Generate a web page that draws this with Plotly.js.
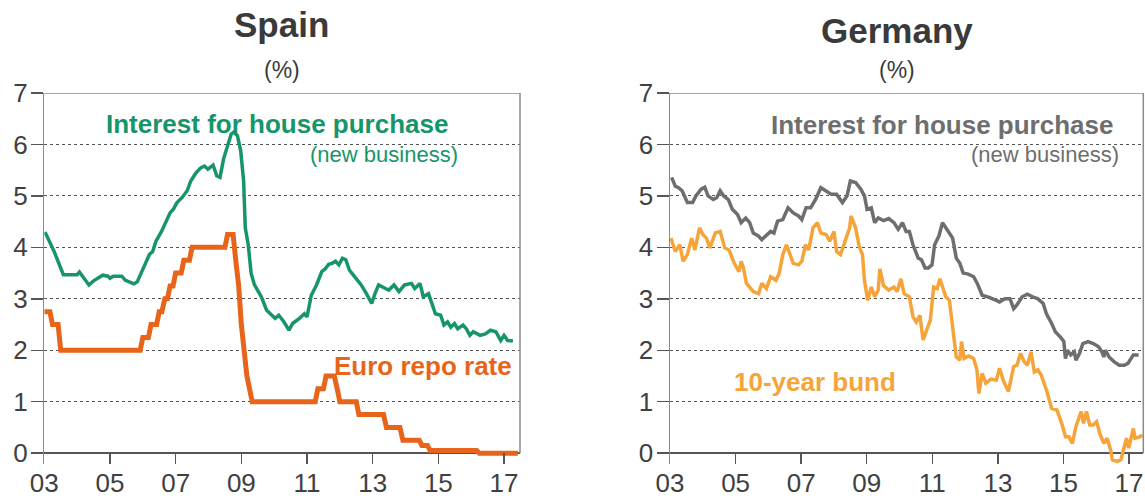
<!DOCTYPE html>
<html>
<head>
<meta charset="utf-8">
<script src="https://cdn.plot.ly/plotly-3.0.1.min.js"></script>
<style>html,body{margin:0;padding:0;background:#fff;}#chart{width:1145px;height:499px;}</style>
</head>
<body>
<div id="chart"></div>
<script>
// ---- Data (decimal years) ----
const tickYears = [2003, 2005, 2007, 2009, 2011, 2013, 2015, 2017];
const tickLabels = ["03", "05", "07", "09", "11", "13", "15", "17"];
const yTicks = [0, 1, 2, 3, 4, 5, 6, 7];

// Spain: interest for house purchase (new business)
const spainHouseX = [2003.02,2003.3,2003.58,2004.0,2004.07,2004.2,2004.36,2004.5,2004.63,2004.78,2004.94,2005.0,2005.1,2005.36,2005.47,2005.73,2005.83,2005.94,2006.04,2006.2,2006.3,2006.4,2006.57,2006.67,2006.83,2006.93,2007.04,2007.2,2007.35,2007.46,2007.62,2007.77,2007.88,2007.98,2008.14,2008.25,2008.35,2008.46,2008.61,2008.69,2008.77,2008.88,2008.98,2009.07,2009.12,2009.21,2009.3,2009.4,2009.61,2009.77,2009.93,2010.03,2010.14,2010.3,2010.45,2010.56,2010.77,2010.92,2011.0,2011.13,2011.29,2011.45,2011.55,2011.66,2011.76,2011.87,2011.97,2012.08,2012.18,2012.29,2012.4,2012.55,2012.65,2012.81,2012.97,2013.07,2013.18,2013.39,2013.49,2013.65,2013.8,2013.97,2014.18,2014.28,2014.44,2014.54,2014.7,2014.91,2015.07,2015.17,2015.28,2015.38,2015.49,2015.59,2015.75,2015.85,2015.96,2016.06,2016.27,2016.43,2016.59,2016.75,2016.9,2017.0,2017.11,2017.27];
const spainHouseY = [4.30,3.92,3.47,3.47,3.52,3.40,3.27,3.35,3.40,3.46,3.44,3.40,3.44,3.44,3.36,3.29,3.33,3.49,3.60,3.86,3.92,4.12,4.31,4.44,4.67,4.74,4.87,4.97,5.10,5.29,5.45,5.55,5.58,5.52,5.60,5.39,5.36,5.72,6.00,6.20,6.24,6.17,5.88,5.29,4.38,4.05,3.49,3.27,3.04,2.78,2.68,2.62,2.68,2.55,2.39,2.52,2.62,2.71,2.65,3.07,3.27,3.53,3.58,3.67,3.69,3.73,3.66,3.79,3.76,3.56,3.47,3.35,3.27,3.10,2.91,3.10,3.27,3.20,3.17,3.27,3.14,3.27,3.30,3.20,3.30,3.04,3.10,2.71,2.68,2.49,2.55,2.45,2.52,2.42,2.49,2.42,2.29,2.36,2.29,2.32,2.39,2.36,2.19,2.29,2.19,2.18];

// Euro repo rate
const repoX = [2003.0,2003.17,2003.25,2003.42,2003.5,2005.92,2006.0,2006.17,2006.25,2006.42,2006.5,2006.58,2006.67,2006.75,2006.83,2006.92,2007.0,2007.17,2007.25,2007.42,2007.5,2008.5,2008.58,2008.75,2008.83,2008.92,2009.0,2009.08,2009.17,2009.25,2009.33,2009.42,2011.25,2011.33,2011.5,2011.58,2011.83,2011.92,2012.0,2012.5,2012.58,2013.33,2013.42,2013.83,2013.92,2014.42,2014.5,2014.67,2014.75,2016.17,2016.25,2017.42];
const repoY = [2.75,2.75,2.5,2.5,2.0,2.0,2.25,2.25,2.5,2.5,2.75,2.75,3.0,3.0,3.25,3.25,3.5,3.5,3.75,3.75,4.0,4.0,4.25,4.25,3.75,3.25,2.5,2.0,1.5,1.25,1.0,1.0,1.0,1.25,1.25,1.5,1.5,1.25,1.0,1.0,0.75,0.75,0.5,0.5,0.25,0.25,0.15,0.15,0.05,0.05,0.0,0.0];

// Germany: interest for house purchase (new business)
const gerHouseX = [2003.05,2003.16,2003.26,2003.37,2003.53,2003.69,2003.79,2003.95,2004.06,2004.16,2004.32,2004.43,2004.53,2004.64,2004.78,2004.9,2005.06,2005.17,2005.31,2005.43,2005.54,2005.7,2005.8,2005.96,2006.07,2006.17,2006.28,2006.44,2006.6,2006.76,2006.92,2007.02,2007.15,2007.29,2007.44,2007.6,2007.76,2007.92,2008.08,2008.26,2008.4,2008.5,2008.66,2008.82,2008.93,2009.01,2009.14,2009.24,2009.35,2009.51,2009.67,2009.83,2009.96,2010.09,2010.2,2010.3,2010.41,2010.57,2010.67,2010.78,2010.88,2010.99,2011.07,2011.2,2011.31,2011.41,2011.52,2011.62,2011.73,2011.84,2011.94,2012.1,2012.26,2012.37,2012.52,2012.73,2012.95,2013.05,2013.21,2013.37,2013.48,2013.58,2013.74,2013.9,2014.06,2014.22,2014.38,2014.48,2014.64,2014.75,2014.9,2015.01,2015.06,2015.12,2015.22,2015.33,2015.38,2015.49,2015.59,2015.75,2015.91,2016.07,2016.17,2016.23,2016.28,2016.39,2016.54,2016.7,2016.86,2016.97,2017.13,2017.29];
const gerHouseY = [5.36,5.19,5.16,5.10,4.87,4.87,5.00,5.13,5.17,5.00,4.93,4.97,5.10,5.00,4.93,4.74,4.64,4.48,4.57,4.48,4.28,4.22,4.15,4.25,4.31,4.28,4.51,4.54,4.77,4.67,4.61,4.54,4.77,4.77,4.93,5.16,5.10,5.03,5.03,4.87,5.00,5.29,5.26,5.13,5.00,4.74,4.77,4.48,4.57,4.52,4.56,4.48,4.35,4.48,4.31,4.31,4.05,3.79,3.76,3.60,3.60,3.66,4.05,4.22,4.48,4.38,4.28,4.18,3.79,3.69,3.50,3.48,3.43,3.30,3.07,3.03,2.97,2.94,3.00,3.00,2.81,2.88,3.04,3.09,3.04,3.00,2.91,2.71,2.52,2.36,2.26,2.17,1.84,2.00,1.91,1.97,1.81,1.94,2.13,2.17,2.13,2.07,1.97,1.87,2.00,1.87,1.78,1.71,1.71,1.75,1.91,1.91];

// Germany: 10-year bund yield
const bundX = [2003.03,2003.16,2003.3,2003.4,2003.53,2003.66,2003.76,2003.9,2004.0,2004.11,2004.22,2004.38,2004.53,2004.67,2004.8,2004.96,2005.1,2005.17,2005.24,2005.33,2005.54,2005.7,2005.8,2005.94,2006.07,2006.23,2006.33,2006.44,2006.55,2006.65,2006.76,2006.92,2007.02,2007.13,2007.23,2007.36,2007.5,2007.6,2007.76,2007.87,2008.0,2008.08,2008.2,2008.34,2008.48,2008.52,2008.66,2008.77,2008.87,2008.93,2009.03,2009.14,2009.24,2009.35,2009.4,2009.51,2009.67,2009.83,2009.93,2010.04,2010.14,2010.3,2010.41,2010.51,2010.62,2010.72,2010.83,2010.94,2011.04,2011.15,2011.23,2011.31,2011.41,2011.52,2011.62,2011.73,2011.84,2011.89,2011.97,2012.1,2012.26,2012.36,2012.42,2012.52,2012.63,2012.79,2012.95,2013.05,2013.16,2013.32,2013.48,2013.58,2013.69,2013.8,2013.9,2014.01,2014.11,2014.22,2014.32,2014.48,2014.64,2014.8,2014.96,2015.06,2015.17,2015.27,2015.38,2015.54,2015.61,2015.7,2015.8,2015.91,2016.01,2016.12,2016.23,2016.33,2016.44,2016.49,2016.65,2016.75,2016.92,2016.99,2017.13,2017.18,2017.34,2017.39];
const bundY = [4.18,3.92,4.05,3.73,3.86,4.18,3.95,4.38,4.25,4.18,3.99,4.28,4.31,3.99,3.95,3.69,3.53,3.73,3.60,3.30,3.14,3.10,3.30,3.20,3.43,3.36,3.50,3.86,4.05,3.86,3.69,3.66,3.73,4.05,3.95,4.38,4.48,4.28,4.25,4.12,4.31,3.92,3.86,4.12,4.38,4.61,4.38,4.02,3.86,3.36,2.97,3.23,3.04,3.17,3.58,3.26,3.17,3.23,3.14,3.39,3.10,3.04,2.65,2.55,2.68,2.20,2.42,2.59,3.23,3.20,3.39,3.23,3.04,2.97,2.46,1.87,1.81,2.17,1.84,1.89,1.84,1.62,1.16,1.55,1.36,1.44,1.42,1.65,1.42,1.20,1.68,1.71,1.94,1.78,1.71,1.97,1.58,1.62,1.52,1.23,0.87,0.84,0.55,0.32,0.32,0.19,0.52,0.81,0.58,0.81,0.55,0.55,0.61,0.36,0.19,0.29,0.06,-0.13,-0.16,-0.13,0.29,0.10,0.48,0.29,0.32,0.36];

// ---- Styling ----
const GREEN = '#17956a', RED = '#e8641b', GREY = '#6e6e6e', AMBER = '#f6a43a';
const TXT = '#3a3a3a';
const tickFont = {family: 'Liberation Sans, Arial, sans-serif', size: 26, color: '#404040'};

const traces = [
  {x: spainHouseX, y: spainHouseY, xaxis: 'x', yaxis: 'y', mode: 'lines', line: {color: GREEN, width: 3.5}, hoverinfo: 'skip'},
  {x: repoX, y: repoY, xaxis: 'x', yaxis: 'y', mode: 'lines', line: {color: RED, width: 5}, hoverinfo: 'skip'},
  {x: gerHouseX, y: gerHouseY, xaxis: 'x2', yaxis: 'y2', mode: 'lines', line: {color: GREY, width: 3.5}, hoverinfo: 'skip'},
  {x: bundX, y: bundY, xaxis: 'x2', yaxis: 'y2', mode: 'lines', line: {color: AMBER, width: 3.5}, hoverinfo: 'skip'}
];

function xAxis(domain, end, anchor) {
  return {domain: domain, range: [2003, end], anchor: anchor, tickmode: 'array', tickvals: tickYears, ticktext: tickLabels,
    showline: false, showgrid: false, zeroline: false, ticks: 'inside', ticklen: 11, tickwidth: 1.5, tickcolor: '#555',
    tickfont: tickFont, ticklabelstandoff: 1, fixedrange: true};
}
function yAxis(anchor) {
  return {domain: [0, 1], range: [-0.21, 7], anchor: anchor, tickmode: 'array', tickvals: yTicks,
    showline: true, linecolor: '#8a8a8a', linewidth: 1.5, ticks: 'outside', ticklen: 12, tickwidth: 1.5, tickcolor: '#555',
    showgrid: true, gridcolor: '#555', gridwidth: 1, griddash: '3px,3px',
    zeroline: true, zerolinecolor: '#555', zerolinewidth: 1.5,
    tickfont: tickFont, ticklabelstandoff: -2, fixedrange: true};
}

const layout = {
  width: 1145, height: 499,
  margin: {l: 0, r: 0, t: 93, b: 35},
  paper_bgcolor: '#fff', plot_bgcolor: '#fff',
  showlegend: false,
  font: {family: 'Liberation Sans, Arial, sans-serif', color: TXT},
  xaxis: xAxis([44.3/1145, 520/1145], 2017.486, 'y'),
  yaxis: yAxis('x'),
  xaxis2: xAxis([670/1145, 1143.3/1145], 2017.434, 'y2'),
  yaxis2: yAxis('x2'),
  shapes: [
    {type: 'line', xref: 'x domain', yref: 'y', x0: 0, x1: 1, y0: 7, y1: 7, line: {color: '#8a8a8a', width: 1.5}},
    {type: 'line', xref: 'x domain', yref: 'y', x0: 1, x1: 1, y0: 0, y1: 7, line: {color: '#8a8a8a', width: 1.5}},
    {type: 'line', xref: 'x2 domain', yref: 'y2', x0: 0, x1: 1, y0: 7, y1: 7, line: {color: '#8a8a8a', width: 1.5}},
    {type: 'line', xref: 'x2 domain', yref: 'y2', x0: 1, x1: 1, y0: 0, y1: 7, line: {color: '#8a8a8a', width: 1.5}}
  ],
  annotations: [
    {xref: 'paper', yref: 'paper', x: 281/1145, y: (464-25)/371, text: '<b>Spain</b>', showarrow: false, font: {size: 35, color: TXT}, xanchor: 'center', yanchor: 'middle'},
    {xref: 'paper', yref: 'paper', x: 282/1145, y: (464-70)/371, text: '(%)', showarrow: false, font: {size: 23, color: TXT}, xanchor: 'center', yanchor: 'middle'},
    {xref: 'paper', yref: 'paper', x: 897/1145, y: (464-30)/371, text: '<b>Germany</b>', showarrow: false, font: {size: 35, color: TXT}, xanchor: 'center', yanchor: 'middle'},
    {xref: 'paper', yref: 'paper', x: 897/1145, y: (464-70)/371, text: '(%)', showarrow: false, font: {size: 23, color: TXT}, xanchor: 'center', yanchor: 'middle'},

    {xref: 'x', yref: 'y', x: 2010.09, y: 6.4, text: '<b>Interest for house purchase</b>', showarrow: false, font: {size: 26, color: GREEN}, xanchor: 'center', yanchor: 'middle'},
    {xref: 'x', yref: 'y', x: 2015.66, y: 5.8, text: '(new business)', showarrow: false, font: {size: 22, color: GREEN}, xanchor: 'right', yanchor: 'middle'},
    {xref: 'x', yref: 'y', x: 2014.53, y: 1.7, text: '<b>Euro repo rate</b>', showarrow: false, font: {size: 26, color: RED}, xanchor: 'center', yanchor: 'middle'},

    {xref: 'x2', yref: 'y2', x: 2011.3, y: 6.38, text: '<b>Interest for house purchase</b>', showarrow: false, font: {size: 26, color: GREY}, xanchor: 'center', yanchor: 'middle'},
    {xref: 'x2', yref: 'y2', x: 2016.75, y: 5.8, text: '(new business)', showarrow: false, font: {size: 22, color: GREY}, xanchor: 'right', yanchor: 'middle'},
    {xref: 'x2', yref: 'y2', x: 2007.42, y: 1.39, text: '<b>10-year bund</b>', showarrow: false, font: {size: 26, color: AMBER}, xanchor: 'center', yanchor: 'middle'}
  ]
};

Plotly.newPlot('chart', traces, layout, {staticPlot: true, displayModeBar: false});
</script>
</body>
</html>
